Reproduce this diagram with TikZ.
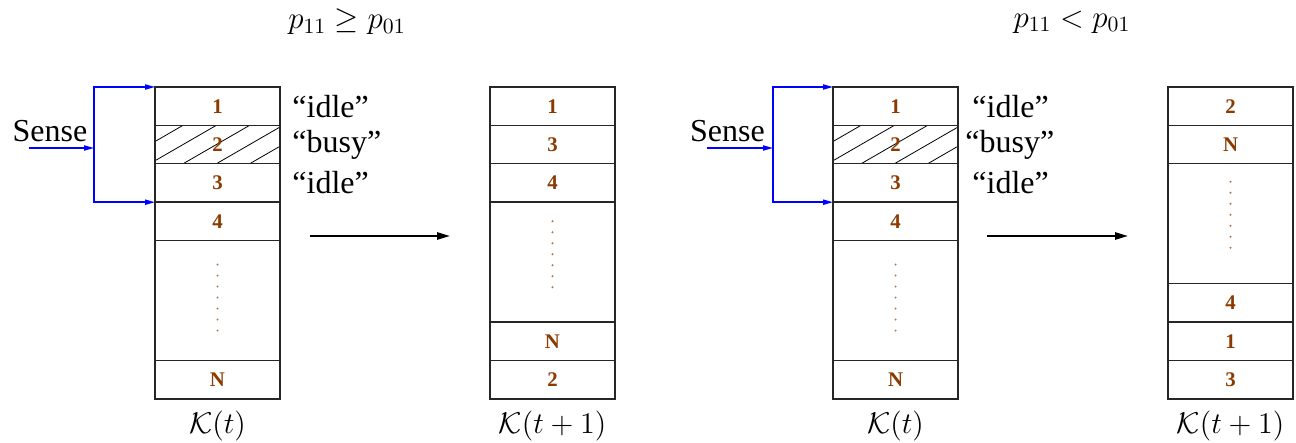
\documentclass[tikz,border=0pt]{standalone}
\usepackage{fix-cm}
\usepackage[no-math]{fontspec}
\setmainfont{Liberation Serif}
\usepackage{tikz}
\usetikzlibrary{positioning, arrows.meta, backgrounds}
\definecolor{numbrown}{RGB}{139,58,0}
\tikzset{
  cell/.style={draw=black!85, line width=0.7pt, minimum width=62.5pt, minimum height=19.2pt,
               inner sep=0pt, outer sep=0pt, text=numbrown, font=\fontsize{10.4}{12}\selectfont\bfseries},
  bigcell/.style={cell, minimum height=60pt},
  klbl/.style={font=\fontsize{15}{18}\selectfont, inner sep=0pt},
  tlbl/.style={font=\fontsize{15.5}{18}\selectfont, inner sep=0pt},
  lbl/.style={font=\fontsize{16}{19}\selectfont, inner sep=0pt},
  sig/.style={-{Triangle[length=5pt,width=2.6pt]}, blue, line width=0.7pt},
  move/.style={-{Triangle[length=6.5pt,width=3.6pt]}, line width=1pt},
  hatch/.style={line width=0.4pt},
  vdot/.style={fill=numbrown!70}
}

\begin{document}
\begin{tikzpicture}[x=0.5pt, y=-0.5pt]
  \useasboundingbox (0,0) rectangle (1296,443);
  % titles
  \node[tlbl] (ta) at (347,22) {$p_{11} \geq p_{01}$};
  \node[tlbl] (tc) at (1072,22) {$p_{11} < p_{01}$};
  % stack K(t), left
  \node[cell] (a1) at (217.5,106.2) {1};
  \node[cell, below=0pt of a1] (a2) {2};
  \node[cell, below=0pt of a2] (a3) {3};
  \node[cell, below=0pt of a3] (a4) {4};
  \node[bigcell, below=0pt of a4] (a5) {};
  \node[cell, below=0pt of a5] (a6) {N};
  \node[klbl, below=6pt of a6] (ka) {$\mathcal{K}(t)$};
  % stack K(t+1), left
  \node[cell] (b1) at (552.5,106.2) {1};
  \node[cell, below=0pt of b1] (b2) {3};
  \node[cell, below=0pt of b2] (b3) {4};
  \node[bigcell, below=0pt of b3] (b4) {};
  \node[cell, below=0pt of b4] (b5) {N};
  \node[cell, below=0pt of b5] (b6) {2};
  \node[klbl, below=6pt of b6] (kb) {$\mathcal{K}(t+1)$};
  % stack K(t), right
  \node[cell] (c1) at (895.5,106.2) {1};
  \node[cell, below=0pt of c1] (c2) {2};
  \node[cell, below=0pt of c2] (c3) {3};
  \node[cell, below=0pt of c3] (c4) {4};
  \node[bigcell, below=0pt of c4] (c5) {};
  \node[cell, below=0pt of c5] (c6) {N};
  \node[klbl, below=6pt of c6] (kc) {$\mathcal{K}(t)$};
  % stack K(t+1), right
  \node[cell] (d1) at (1230.5,106.2) {2};
  \node[cell, below=0pt of d1] (d2) {N};
  \node[bigcell, below=0pt of d2] (d3) {};
  \node[cell, below=0pt of d3] (d4) {4};
  \node[cell, below=0pt of d4] (d5) {1};
  \node[cell, below=0pt of d5] (d6) {3};
  \node[klbl, below=6pt of d6] (kd) {$\mathcal{K}(t+1)$};
  % busy channel
  \begin{scope}[on background layer]
    \begin{scope}
      \clip (a2.south west) rectangle (a2.north east);
      \foreach \k in {-2,...,2}
        \draw[hatch] ([xshift={14pt+\k*16.65pt}]a2.south west) -- ++(66.5,-38.4);
    \end{scope}
    \begin{scope}
      \clip (c2.south west) rectangle (c2.north east);
      \foreach \k in {-2,...,2}
        \draw[hatch] ([xshift={14pt+\k*16.65pt}]c2.south west) -- ++(66.5,-38.4);
    \end{scope}
  \end{scope}
  % dots
  \foreach \k in {-3,...,3} {
    \fill[vdot] ([yshift={1.5pt+\k*5.5pt}]a5.center) circle (0.55pt);
    \fill[vdot] ([yshift={4pt+\k*5.5pt}]b4.center) circle (0.55pt);
    \fill[vdot] ([yshift={1.5pt+\k*5.5pt}]c5.center) circle (0.55pt);
    \fill[vdot] ([yshift={4.5pt+\k*5.5pt}]d3.center) circle (0.55pt);
  }
  % channel states
  \node[lbl, right=6pt of a1] (ia1) {``idle''};
  \node[lbl, right=6pt of a2] (ia2) {``busy''};
  \node[lbl, right=6pt of a3] (ia3) {``idle''};
  \node[lbl, right=7pt of c1] (ic1) {``idle''};
  \node[lbl, right=3.5pt of c2] (ic2) {``busy''};
  \node[lbl, right=7pt of c3] (ic3) {``idle''};
  % sensing
  \node[lbl] (sa) at (50,131) {Sense};
  \coordinate (sa0) at (29,148);
  \coordinate (saj) at (94,148);
  \draw[sig] (sa0) -- (saj);
  \draw[sig] (saj) |- (a1.north west);
  \draw[sig] (saj) |- (a3.south west);
  \node[lbl] (sc) at (727.5,131) {Sense};
  \coordinate (sc0) at (707,148);
  \coordinate (scj) at (773,148);
  \draw[sig] (sc0) -- (scj);
  \draw[sig] (scj) |- (c1.north west);
  \draw[sig] (scj) |- (c3.south west);
  % transitions
  \coordinate (ma0) at (310,236);
  \coordinate (ma1) at (450,236);
  \draw[move] (ma0) -- (ma1);
  \coordinate (mc0) at (987,236);
  \coordinate (mc1) at (1128,236);
  \draw[move] (mc0) -- (mc1);
\end{tikzpicture}
\end{document}
